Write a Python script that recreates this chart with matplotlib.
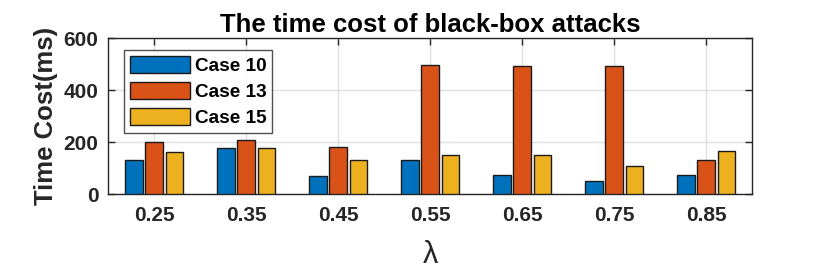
import matplotlib
matplotlib.use("Agg")
import matplotlib.pyplot as plt
import numpy as np

plt.rcParams['font.family'] = ['Liberation Sans', 'DejaVu Sans']

categories = ["0.25", "0.35", "0.45", "0.55", "0.65", "0.75", "0.85"]
case10 = [131, 177, 68, 132, 73, 51, 72]
case13 = [200, 208, 181, 496, 491, 491, 130]
case15 = [163, 177, 130, 149, 151, 109, 165]
series_names = ["Case 10", "Case 13", "Case 15"]
colors = ["#0072BD", "#D95319", "#EDB120"]

fig = plt.figure(figsize=(8.3, 2.72), dpi=100)
ax = fig.add_axes([108/830, 1 - 194/272, (752-108)/830, (194-38)/272])

x = np.arange(1, len(categories) + 1)
width = 0.19
offset = 0.22
for i, (vals, name, c) in enumerate(zip([case10, case13, case15], series_names, colors)):
    ax.bar(x + (i - 1) * offset, vals, width, color=c, edgecolor='#1a1a1a',
           linewidth=1.0, label=name, zorder=3)

ax.set_xlim(0.5, 7.5)
ax.set_ylim(0, 600)
ax.set_xticks(x)
ax.set_xticklabels(categories)
ax.set_yticks([0, 200, 400, 600])
ax.grid(True, color='#e0e0e0', linewidth=1.0, zorder=0)
ax.set_axisbelow(True)
ax.tick_params(direction='in', top=True, right=True, length=5, width=1.0,
               labelsize=15, color='#262626')
ax.tick_params(axis='y', pad=7)
ax.tick_params(axis='x', pad=8.5)
for lab in ax.get_xticklabels() + ax.get_yticklabels():
    lab.set_fontweight('bold')
    lab.set_color('#262626')
for s in ax.spines.values():
    s.set_color('#262626')
    s.set_linewidth(1.0)

ax.set_title("The time cost of black-box attacks", fontsize=18.5, fontweight='bold', pad=4)
ax.set_ylabel("Time Cost(ms)", fontsize=18.5, fontweight='bold', color='#262626', labelpad=4)
ax.set_xlabel("λ", fontsize=22, color='#262626', labelpad=11)

leg = ax.legend(loc='upper left', bbox_to_anchor=((124.3 - 108) / 644, 1 - (50 - 38) / 156),
                prop={'weight': 'bold', 'size': 13.7}, frameon=True, fancybox=False,
                edgecolor='#262626', handlelength=3.16, handleheight=1.0, borderpad=0.3,
                labelspacing=0.37, handletextpad=0.23, borderaxespad=0)
leg.get_frame().set_linewidth(1.0)

fig.savefig("out.png", dpi=100)
